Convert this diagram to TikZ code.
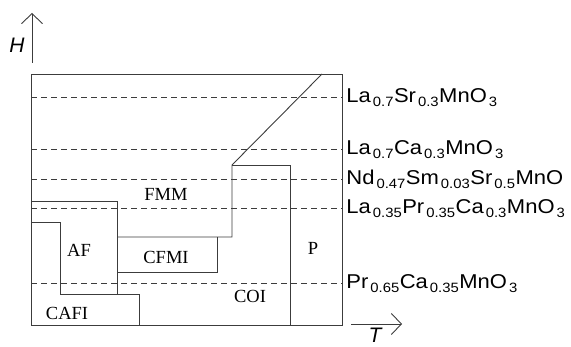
\documentclass[tikz,border=0pt]{standalone}
\usepackage{fontspec}
\setmainfont{Liberation Serif}
\setsansfont{Liberation Sans}
\newfontfamily\formfont[FakeStretch=1.1]{Liberation Sans}
\usepackage{tikz}
\usetikzlibrary{arrows.meta, positioning}
\definecolor{lineg}{RGB}{60,60,60}
\newcommand{\sbs}[1]{\kern2pt\raisebox{-3.5pt}{\fontsize{13.5}{13.5}\selectfont #1}\kern0.5pt}

\begin{document}
\begin{tikzpicture}[x=1pt, y=-1pt, line width=0.9pt,
  phase/.style={font=\fontsize{18.5}{18.5}\selectfont, inner sep=0pt},
  compound/.style={anchor=base west, font=\formfont\fontsize{20}{20}\selectfont, inner sep=0pt},
  axislabel/.style={font=\sffamily\itshape\fontsize{21}{21}\selectfont, inner sep=0pt},
  wall/.style={draw=lineg},
  level/.style={draw=lineg, dash pattern=on 6pt off 4pt},
  axis/.style={draw=lineg, -{Straight Barb[length=10pt,width=21pt]}}]
\useasboundingbox (0,0) rectangle (571,347);
% axes
\coordinate (h0) at (32,63);
\coordinate (h1) at (32,13);
\draw[axis] (h0) -- (h1);
\node[axislabel] (hlab) at (17,45) {H};
\coordinate (t0) at (351,324);
\coordinate (t1) at (402,324);
\draw[axis] (t0) -- (t1);
\node[axislabel] (tlab) at (375,335) {T};
% frame
\draw[wall] (31,74) rectangle (342,325);
% compositions
\draw[level] (31,97) -- (342,97);
\draw[level] (31,149) -- (342,149);
\draw[level] (31,179) -- (342,179);
\draw[level] (31,208) -- (342,208);
\draw[level] (31,283) -- (342,283);
\node[compound] (lsmo) at (346,103) {La\sbs{0.7}Sr\sbs{0.3}MnO\sbs{3}};
\node[compound] (lcmo) at (346,155) {La\sbs{0.7}Ca\sbs{0.3}MnO\sbs{3}};
\node[compound] (nssmo) at (346,185) {Nd\sbs{0.47}Sm\sbs{0.03}Sr\sbs{0.5}MnO};
\node[compound] (lpcmo) at (346,214) {La\sbs{0.35}Pr\sbs{0.35}Ca\sbs{0.3}MnO\sbs{3}};
\node[compound] (pcmo) at (346,289) {Pr\sbs{0.65}Ca\sbs{0.35}MnO\sbs{3}};
% phase boundaries
\draw[wall] (322,74) -- (232,165) -- (232,237) -- (117,237);
\draw[wall] (232,165) -- (290,165) -- (290,325);
\draw[wall] (31,201) -- (117,201) -- (117,294);
\draw[wall] (31,222) -- (60,222) -- (60,294) -- (139,294) -- (139,325);
\draw[wall] (117,272) -- (217,272) -- (217,237);
% phases
\node[phase] (fmm) at (166,194) {FMM};
\node[phase] (af) at (79,250) {AF};
\node[phase] (cfmi) at (166,257) {CFMI};
\node[phase] (p) at (313,248) {P};
\node[phase] (coi) at (250,296) {COI};
\node[phase] (cafi) at (67,313) {CAFI};
\end{tikzpicture}
\end{document}
